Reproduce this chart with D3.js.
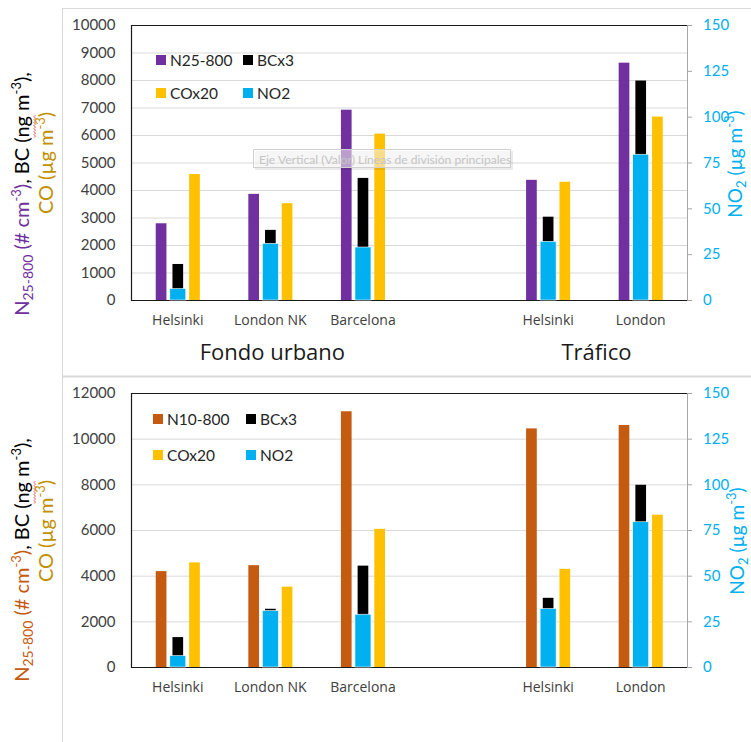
<!DOCTYPE html>
<html><head><meta charset="utf-8">
<script src="https://cdn.jsdelivr.net/npm/d3@7"></script>
<style>
body{margin:0;background:#fff}
svg{display:block}
text{font-family:Lato,"Open Sans",sans-serif}
</style>
</head><body>
<svg id="c" width="751" height="742"></svg>
<script>
// Site categories (the empty slot separates the two site groups)
const categories = ["Helsinki", "London NK", "Barcelona", "", "Helsinki", "London"];
const groupNames = ["Fondo urbano", "Tráfico"];
const groupSpans = [[0, 2], [4, 5]];

// Concentrations per site
const n25_800 = [2790, 3860, 6920, null, 4370, 8630];   // # cm-3
const n10_800 = [4200, 4460, 11200, null, 10450, 10600]; // # cm-3
const bcx3 = [1310, 2550, 4440, null, 3030, 7980];       // ng m-3 (x3)
const cox20 = [4580, 3520, 6050, null, 4300, 6670];      // µg m-3 (x20)
const no2 = [6.2, 30.9, 28.9, null, 32, 79.5];           // µg m-3 (right axis)

const leftTicksTop = [0, 1000, 2000, 3000, 4000, 5000, 6000, 7000, 8000, 9000, 10000];
const leftTicksBottom = [0, 2000, 4000, 6000, 8000, 10000, 12000];
const rightTicks = [0, 25, 50, 75, 100, 125, 150];

const C = {
  purple: "#7030A0", orange: "#C55A11", black: "#000000",
  co: "#FFC000", no2: "#00B0F0", coTitle: "#BF9000",
  grid: "#D9D9D9", tick: "#404040", frame: "#D9D9D9"
};
const OPEN = '"Open Sans",Lato,sans-serif';

const svg = d3.select("#c");

// outer chart frames
svg.append("line").attr("x1", 62.5).attr("x2", 62.5).attr("y1", 8).attr("y2", 742).attr("stroke", C.frame);
svg.append("line").attr("x1", 62).attr("x2", 751).attr("y1", 8.5).attr("y2", 8.5).attr("stroke", C.frame);
svg.append("line").attr("x1", 62).attr("x2", 751).attr("y1", 376.5).attr("y2", 376.5).attr("stroke", C.frame).attr("stroke-width", 2);

const plotL = 131.5, plotR = 687;
const x = d3.scaleBand().domain(d3.range(categories.length)).range([plotL, plotR]).padding(0);
const inner = d3.scaleBand().domain(["n", "bc", "co"]).range([-25.05, 25.05]).paddingInner(0.36).paddingOuter(0.18);
const no2Width = 16;

function panel(cfg) {
  const g = svg.append("g");
  const y = d3.scaleLinear().domain([0, cfg.leftMax]).range([cfg.bottom, cfg.top]);
  const y2 = d3.scaleLinear().domain([0, 150]).range([cfg.bottom, cfg.top]);

  // gridlines
  g.append("g").attr("transform", `translate(${plotL},0)`)
    .call(d3.axisLeft(y).tickValues(cfg.ticks).tickSize(-(plotR - plotL)).tickFormat(""))
    .call(a => a.select(".domain").remove())
    .call(a => a.selectAll("line").attr("stroke", C.grid));

  // left tick labels
  g.append("g").attr("transform", `translate(${plotL},0)`)
    .call(d3.axisLeft(y).tickValues(cfg.ticks).tickSize(0).tickPadding(16).tickFormat(d3.format("d")))
    .call(a => a.select(".domain").remove())
    .call(a => a.selectAll("text").attr("fill", C.tick).attr("font-size", 15).style("font-family", "Lato"));

  // plot frame
  g.append("path").attr("d", `M${plotR},${cfg.top + 0.5}H${plotL}V${cfg.bottom + 0.5}H${plotR}`)
    .attr("fill", "none").attr("stroke", "#1a1a1a").attr("stroke-width", 1.2);

  const idx = d3.range(categories.length).filter(i => cfg.nData[i] != null);
  const cx = i => x(i) + x.bandwidth() / 2;

  // primary bars
  const prim = [["n", cfg.nData, cfg.nColor], ["bc", bcx3, C.black], ["co", cox20, C.co]];
  prim.forEach(([k, data, col]) => {
    g.append("g").selectAll("rect").data(idx).join("rect")
      .attr("x", i => cx(i) + inner(k))
      .attr("width", inner.bandwidth())
      .attr("y", i => y(data[i]))
      .attr("height", i => y(0) - y(data[i]))
      .attr("fill", col);
  });
  // secondary axis bars (NO2)
  g.append("g").selectAll("rect").data(idx).join("rect")
    .attr("x", i => cx(i) - no2Width / 2)
    .attr("width", no2Width)
    .attr("y", i => y2(no2[i]))
    .attr("height", i => y2(0) - y2(no2[i]))
    .attr("fill", C.no2).attr("stroke", "#fff").attr("stroke-width", 0.6);

  // right axis
  g.append("g").attr("transform", `translate(${plotR},0)`)
    .call(d3.axisRight(y2).tickValues(rightTicks).tickSize(5).tickPadding(11))
    .call(a => a.select(".domain").attr("stroke", "#A6A6A6"))
    .call(a => a.selectAll("line").attr("stroke", "#A6A6A6"))
    .call(a => a.selectAll("text").attr("fill", C.no2).attr("font-size", 15).style("font-family", "Lato"));

  // category labels
  g.append("g").selectAll("text").data(idx).join("text")
    .attr("x", cx).attr("y", cfg.bottom + 25)
    .attr("text-anchor", "middle").attr("font-size", 14).attr("fill", C.tick)
    .style("font-family", OPEN)
    .text(i => categories[i]);

  // group labels
  if (cfg.groups) {
    groupNames.forEach((nm, j) => {
      const [a, b] = groupSpans[j];
      g.append("text").attr("x", (cx(a) + cx(b)) / 2 + 2).attr("y", cfg.bottom + 60)
        .attr("text-anchor", "middle").attr("font-size", 22).attr("fill", "#1a1a1a")
        .style("font-family", OPEN).text(nm);
    });
  }

  // legend
  const leg = [[cfg.nName, cfg.nColor], ["BCx3", C.black], ["COx20", C.co], ["NO2", C.no2]];
  leg.forEach(([nm, col], k) => {
    const lx = cfg.legX[k % 2], ly = cfg.legY[Math.floor(k / 2)];
    g.append("rect").attr("x", lx).attr("y", ly - 5).attr("width", 10).attr("height", 10).attr("fill", col);
    g.append("text").attr("x", lx + 14).attr("y", ly).attr("dy", "0.36em")
      .attr("font-size", 15.5).attr("fill", "#262626").text(nm);
  });

  // left axis title (two lines, rotated)
  const t1g = g.append("g").attr("transform", `translate(${cfg.t1[0]},${cfg.t1[1]}) rotate(-90)`);
  const t1 = t1g.append("text").attr("text-anchor", "middle").attr("font-size", 20);
  t1.append("tspan").attr("fill", cfg.nColor).text("N");
  t1.append("tspan").attr("fill", cfg.nColor).attr("font-size", 14).attr("dy", 4).text("25-800");
  t1.append("tspan").attr("fill", cfg.nColor).attr("dy", -4).text(" (# cm");
  t1.append("tspan").attr("fill", cfg.nColor).attr("font-size", 13).attr("dy", -8).text("-3");
  t1.append("tspan").attr("fill", cfg.nColor).attr("dy", 8).text(")");
  t1.append("tspan").attr("fill", "#000").text(", BC (");
  const ng = t1.append("tspan").attr("fill", "#000").text("ng");
  t1.append("tspan").attr("fill", "#000").text(" m");
  t1.append("tspan").attr("fill", "#000").attr("font-size", 13).attr("dy", -8).text("-3");
  t1.append("tspan").attr("fill", "#000").attr("dy", 8).text("),");
  // spell-check squiggle under "ng"
  const s0 = ng.node().getStartPositionOfChar(0), s1 = ng.node().getEndPositionOfChar(1);
  let p = `M${s0.x},${s0.y + 5}`;
  for (let xx = s0.x, k = 0; xx < s1.x; xx += 1.5, k++) p += `L${xx + 1.5},${s0.y + (k % 2 ? 5 : 6.5)}`;
  t1g.append("path").attr("d", p).attr("fill", "none").attr("stroke", "#E0454A").attr("stroke-width", 0.9);

  const t2 = g.append("text").attr("transform", `translate(${cfg.t2[0]},${cfg.t2[1]}) rotate(-90)`)
    .attr("text-anchor", "middle").attr("font-size", 20).attr("fill", C.coTitle);
  t2.append("tspan").text("CO (µg m");
  t2.append("tspan").attr("font-size", 13).attr("dy", -8).text("-3");
  t2.append("tspan").attr("dy", 8).text(")");

  // right axis title
  const t3 = g.append("text").attr("transform", `translate(${cfg.t3[0]},${cfg.t3[1]}) rotate(-90)`)
    .attr("text-anchor", "middle").attr("font-size", 19).attr("fill", C.no2);
  t3.append("tspan").text("NO");
  t3.append("tspan").attr("font-size", 13).attr("dy", 4).text("2");
  t3.append("tspan").attr("dy", -4).text(" (µg m");
  t3.append("tspan").attr("font-size", 13).attr("dy", -8).text("-3");
  t3.append("tspan").attr("dy", 8).text(")");
}

panel({
  top: 25, bottom: 300, leftMax: 10000, ticks: leftTicksTop,
  nData: n25_800, nColor: C.purple, nName: "N25-800", groups: true,
  legX: [156, 243], legY: [60, 93],
  t1: [29, 194], t2: [53, 163], t3: [742, 164]
});
panel({
  top: 393, bottom: 667, leftMax: 12000, ticks: leftTicksBottom,
  nData: n10_800, nColor: C.orange, nName: "N10-800", groups: false,
  legX: [153, 246], legY: [419, 455],
  t1: [29, 560], t2: [53, 531], t3: [744, 541]
});

// hover hint box over the upper gridlines
const tip = svg.append("g");
tip.append("rect").attr("x", 255).attr("y", 151).attr("width", 258).attr("height", 19).attr("fill", "#000").attr("opacity", 0.08);
tip.append("rect").attr("x", 253.5).attr("y", 149.5).attr("width", 257).attr("height", 18)
  .attr("fill", "#fff").attr("fill-opacity", 0.55).attr("stroke", "#D0D0D0");
tip.append("text").attr("x", 259).attr("y", 163.5).attr("font-size", 12.1).attr("fill", "#C4C4C4")
  .text("Eje Vertical (Valor) Líneas de división principales");
</script>
</body></html>
